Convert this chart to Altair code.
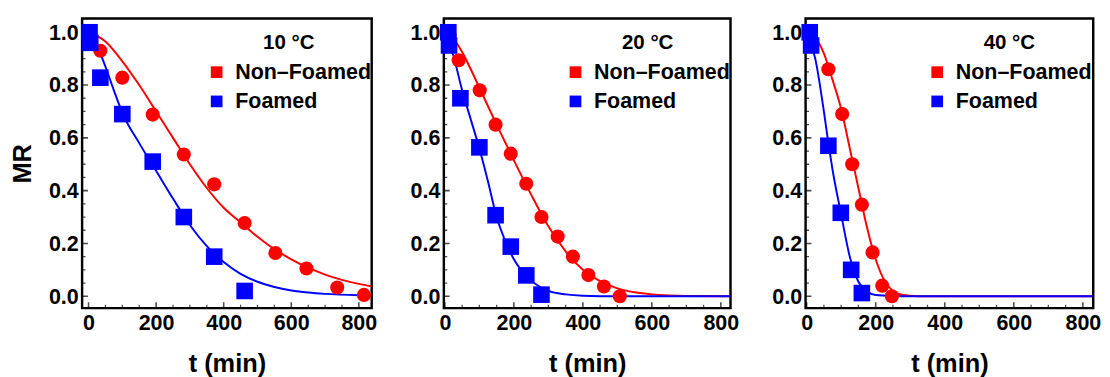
import altair as alt
import pandas as pd

FONT = "Liberation Sans"
series_names = ["Non–Foamed", "Foamed"]
series_colors = ["#ff0000", "#0000ff"]
temps = ["10 °C", "20 °C", "40 °C"]

x_major = [0, 200, 400, 600, 800]
x_minor = [50, 100, 150, 250, 300, 350, 450, 500, 550, 650, 700, 750]
y_major = [0.0, 0.2, 0.4, 0.6, 0.8, 1.0]
y_minor = [0.05, 0.1, 0.15, 0.25, 0.3, 0.35, 0.45, 0.5, 0.55, 0.65, 0.7, 0.75, 0.85, 0.9, 0.95]

# ---- 10 °C ----
p1_nf_t = [5, 35, 100, 190, 282, 372, 462, 553, 645, 736, 815]
p1_nf_mr = [0.99, 0.93, 0.828, 0.688, 0.537, 0.424, 0.277, 0.164, 0.105, 0.033, 0.005]
p1_f_t = [3, 5, 35, 100, 190, 282, 372, 462]
p1_f_mr = [1.0, 0.96, 0.828, 0.69, 0.51, 0.30, 0.15, 0.02]
p1_cnf_t = [0, 50, 100, 150, 200, 250, 300, 350, 400, 450, 500, 550, 600, 650, 700, 750, 800, 838]
p1_cnf_mr = [1.0, 0.965, 0.89, 0.80, 0.70, 0.60, 0.50, 0.41, 0.335, 0.28, 0.225, 0.178, 0.14, 0.108, 0.082, 0.062, 0.047, 0.038]
p1_cf_t = [0, 25, 50, 75, 100, 150, 200, 250, 300, 350, 400, 450, 500, 550, 600, 650, 700, 800, 838]
p1_cf_mr = [1.0, 0.95, 0.87, 0.78, 0.695, 0.58, 0.475, 0.37, 0.27, 0.19, 0.13, 0.085, 0.055, 0.035, 0.022, 0.014, 0.009, 0.004, 0.003]

# ---- 20 °C ----
p2_nf_t = [14, 40, 101, 147, 191, 236, 280, 327, 371, 416, 461, 507]
p2_nf_mr = [0.99, 0.894, 0.78, 0.65, 0.54, 0.426, 0.30, 0.226, 0.15, 0.08, 0.037, 0.0]
p2_f_t = [10, 12, 45, 100, 147, 191, 236, 280]
p2_f_mr = [1.0, 0.95, 0.75, 0.564, 0.307, 0.188, 0.079, 0.006]
p2_cnf_t = [0, 25, 50, 75, 100, 150, 200, 250, 300, 350, 400, 450, 500, 550, 600, 650, 700, 828]
p2_cnf_mr = [1.0, 0.975, 0.925, 0.86, 0.79, 0.65, 0.515, 0.385, 0.265, 0.17, 0.10, 0.057, 0.03, 0.015, 0.007, 0.003, 0.001, 0.0]
p2_cf_t = [0, 25, 50, 75, 100, 125, 150, 175, 200, 250, 300, 350, 400, 500, 828]
p2_cf_mr = [1.0, 0.91, 0.78, 0.67, 0.56, 0.435, 0.30, 0.21, 0.14, 0.06, 0.02, 0.007, 0.002, 0.0, 0.0]

# ---- 40 °C ----
p3_nf_t = [11, 63, 103, 132, 160, 191, 219, 247]
p3_nf_mr = [0.99, 0.86, 0.69, 0.50, 0.347, 0.166, 0.04, 0.0]
p3_f_t = [9, 13, 63, 99, 129, 160]
p3_f_mr = [1.0, 0.95, 0.57, 0.316, 0.10, 0.012]
p3_cnf_t = [0, 25, 50, 75, 100, 125, 150, 175, 200, 225, 250, 275, 300, 350, 828]
p3_cnf_mr = [1.0, 0.98, 0.92, 0.82, 0.71, 0.56, 0.41, 0.26, 0.14, 0.06, 0.02, 0.006, 0.002, 0.0, 0.0]
p3_cf_t = [0, 25, 50, 63, 75, 100, 125, 150, 175, 200, 250, 300, 828]
p3_cf_mr = [1.0, 0.9, 0.7, 0.58, 0.48, 0.31, 0.15, 0.055, 0.018, 0.005, 0.001, 0.0, 0.0]

H = 297
YDOM = [-0.045, 1.052]


def panel(temp, nf_t, nf_mr, f_t, f_mr, cnf_t, cnf_mr, cf_t, cf_mr, xdom, width, ytitle, lx):
    pts_nf = pd.DataFrame({"t": nf_t, "MR": nf_mr, "series": series_names[0]})
    pts_f = pd.DataFrame({"t": f_t, "MR": f_mr, "series": series_names[1]})
    c_nf = pd.DataFrame({"t": cnf_t, "MR": cnf_mr})
    c_f = pd.DataFrame({"t": cf_t, "MR": cf_mr})

    xs = alt.Scale(domain=xdom, nice=False, zero=False)
    ys = alt.Scale(domain=YDOM, nice=False, zero=False)
    xax = alt.Axis(values=x_major, format="d", title="t (min)", labelFlush=False,
                   labelPadding=5, titlePadding=18)
    yax_kw = dict(values=y_major, format=".1f", labelPadding=4, titlePadding=13)
    if ytitle:
        yax = alt.Axis(title="MR", **yax_kw)
    else:
        yax = alt.Axis(title=None, **yax_kw)
    X = alt.X("t:Q", scale=xs, axis=xax)
    Y = alt.Y("MR:Q", scale=ys, axis=yax)
    col = alt.Color(
        "series:N",
        scale=alt.Scale(domain=series_names, range=series_colors),
        legend=alt.Legend(title=temp, orient="none", legendX=lx, legendY=14,
                          symbolType="square", titleAnchor="middle"),
    )

    line_nf = alt.Chart(c_nf).mark_line(color=series_colors[0], strokeWidth=2, clip=True,
                                        interpolate="monotone").encode(x=X, y=Y)
    line_f = alt.Chart(c_f).mark_line(color=series_colors[1], strokeWidth=2, clip=True,
                                      interpolate="monotone").encode(x=X, y=Y)
    circ = alt.Chart(pts_nf).mark_circle(size=210, opacity=1).encode(x=X, y=Y, color=col)
    sq = alt.Chart(pts_f).mark_square(size=290, opacity=1).encode(x=X, y=Y, color=col)

    xt_major = alt.Chart(pd.DataFrame({"t": x_major})).mark_tick(
        orient="vertical", size=12, thickness=1.6, color="black", clip=True
    ).encode(x=X, y=alt.value(H))
    xt_minor = alt.Chart(pd.DataFrame({"t": x_minor})).mark_tick(
        orient="vertical", size=7, thickness=1.3, color="black", clip=True
    ).encode(x=X, y=alt.value(H))
    yt_major = alt.Chart(pd.DataFrame({"MR": y_major})).mark_tick(
        orient="horizontal", size=12, thickness=1.6, color="black", clip=True
    ).encode(y=Y, x=alt.value(0))
    yt_minor = alt.Chart(pd.DataFrame({"MR": y_minor})).mark_tick(
        orient="horizontal", size=7, thickness=1.3, color="black", clip=True
    ).encode(y=Y, x=alt.value(0))

    return alt.layer(xt_major, xt_minor, yt_major, yt_minor, line_nf, line_f, circ, sq).properties(
        width=width, height=H
    )


p1 = panel(temps[0], p1_nf_t, p1_nf_mr, p1_f_t, p1_f_mr, p1_cnf_t, p1_cnf_mr, p1_cf_t, p1_cf_mr,
           [-19, 838], 297, True, 127)
p2 = panel(temps[1], p2_nf_t, p2_nf_mr, p2_f_t, p2_f_mr, p2_cnf_t, p2_cnf_mr, p2_cf_t, p2_cf_mr,
           [-3, 828], 294, False, 124)
p3 = panel(temps[2], p3_nf_t, p3_nf_mr, p3_f_t, p3_f_mr, p3_cnf_t, p3_cnf_mr, p3_cf_t, p3_cf_mr,
           [-3, 830], 295, False, 124)

chart = (
    alt.hconcat(p1, p2, p3, spacing=31)
    .resolve_scale(color="independent", x="independent", y="independent")
    .resolve_legend(color="independent")
    .properties(padding={"left": 1, "top": 4, "right": 0, "bottom": 0})
    .configure_view(stroke="black", strokeWidth=2.5)
    .configure_axis(
        domain=False, ticks=False, grid=False,
        labelFont=FONT, labelFontSize=22, labelFontWeight="bold", labelColor="black",
        titleFont=FONT, titleFontSize=26, titleFontWeight="bold", titleColor="black",
    )
    .configure_legend(
        titleFont=FONT, titleFontSize=21, titleFontWeight="bold", titleColor="black",
        labelFont=FONT, labelFontSize=22, labelFontWeight="bold", labelColor="black",
        symbolSize=144, symbolStrokeWidth=0, labelOffset=8, rowPadding=8, titlePadding=9,
    )
)

chart.save("out.html", embed_options={"renderer": "svg", "actions": False})
